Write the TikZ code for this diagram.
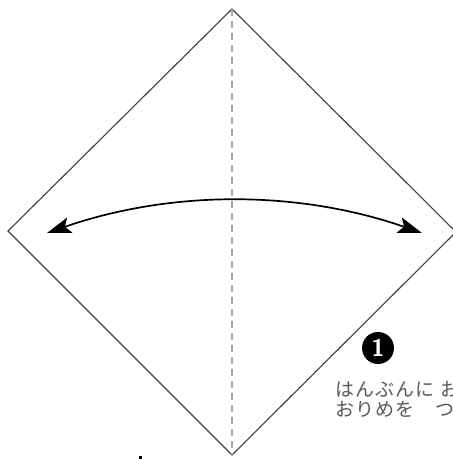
\documentclass[tikz,border=0pt]{standalone}
\usepackage{fontspec}
\newfontfamily\jpfont[LetterSpace=6]{Noto Sans CJK JP}
\usetikzlibrary{arrows.meta}
\tikzstyle{paper} = [
    draw=black!75,
    line width=1.1pt
]
\tikzstyle{valley} = [
    draw=black!35,
    line width=1.8pt,
    dash pattern=on 7pt off 5pt
]
\tikzstyle{arrow} = [line width=1.7pt,<->,>={Stealth[length=24pt,width=16pt,inset=5pt]}]
\tikzstyle{number} = [
    circle,
    fill=black,
    minimum size=32pt,
    inner sep=0pt,
    text=white,
    font=\sffamily\bfseries\fontsize{24}{24}\selectfont
]
\tikzstyle{caption} = [
    anchor=base west,
    inner sep=0pt,
    text=black!65,
    font=\jpfont\fontsize{19}{20}\selectfont
]

\begin{document}
\begin{tikzpicture}[x=1pt, y=-1pt]

\clip (0,0) rectangle (453,459);
\fill[white] (0,0) rectangle (453,459);

% Paper corners
\coordinate (top) at (232,9);
\coordinate (left) at (8,231);
\coordinate (right) at (456,232);
\coordinate (bottom) at (232,455);

\draw [paper] (top) -- (right) -- (bottom) -- (left) -- cycle;
\draw [valley] (top) -- (bottom);

% Arrows
\coordinate (tipl) at (47,233);
\coordinate (tipr) at (422,233);
\draw [arrow] (tipl) .. controls +(124,-43) and +(-124,-43) .. (tipr);

\node (num) [number] at (378,348) {1};

\node (line1) [caption] at (335,396) {はんぶんに おって};
\node (line2) [caption] at (335,416) {おりめを　つける};

\node (mark) [fill=black, inner sep=0pt, minimum size=3pt] at (140,457) {};

\end{tikzpicture}
\end{document}
